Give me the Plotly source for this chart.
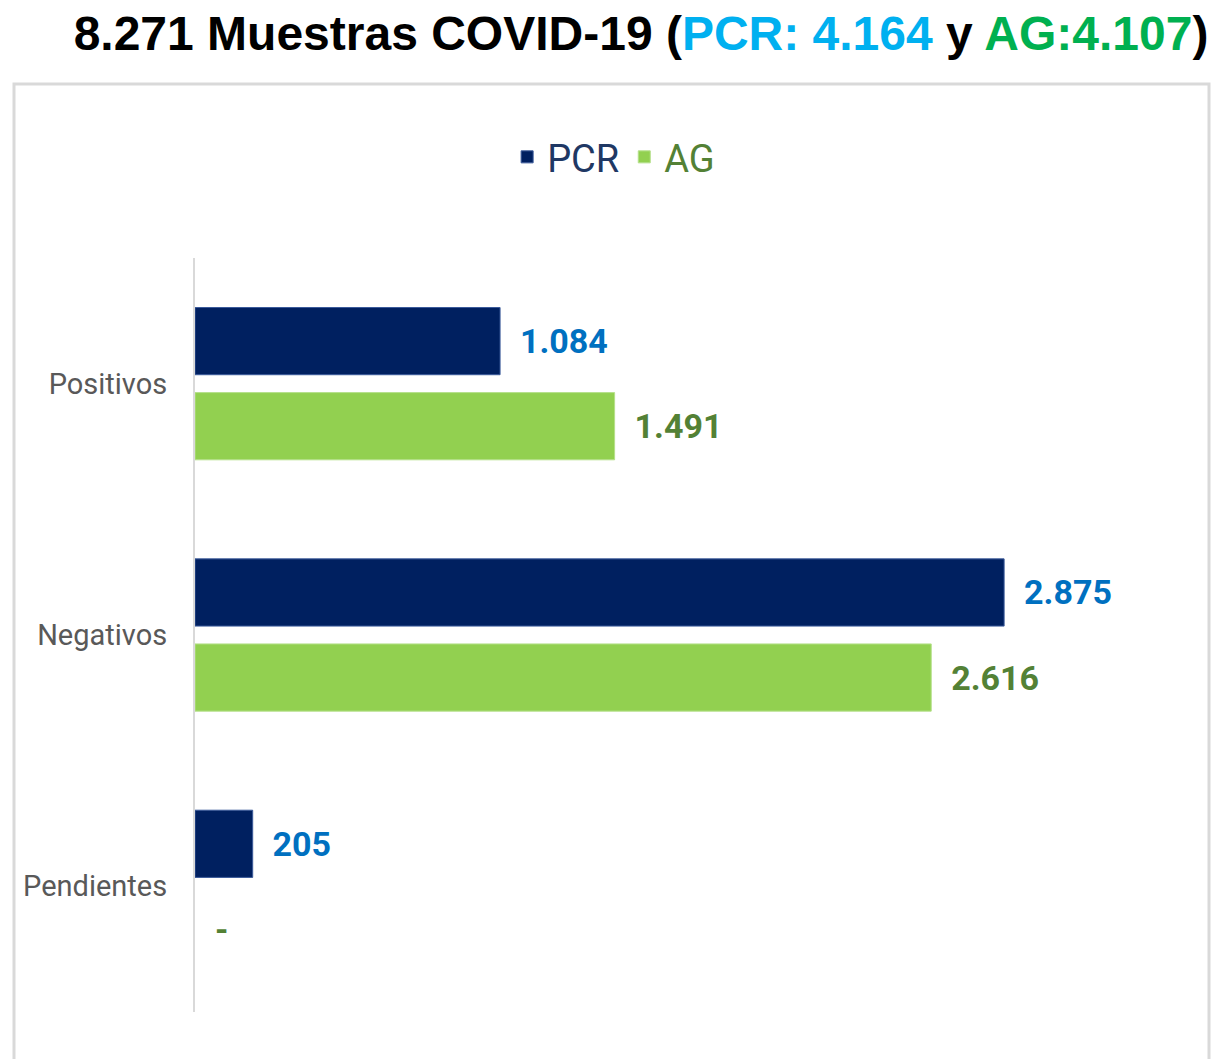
import plotly.graph_objects as go

categories = ["Positivos", "Negativos", "Pendientes"]
pcr_values = [1084, 2875, 205]
ag_values = [1491, 2616, 0]
series_names = ["PCR", "AG"]
title_total = "8.271"
title_pcr = "4.164"
title_ag = "4.107"

FONT = "Roboto, Liberation Sans, sans-serif"
W, H = 1221, 1051  # page body has an 8px margin


def fmt(v):
    return "\u00a0\u00a0" + (f"{v:,}".replace(",", ".") if v else "-")


fig = go.Figure()
fig.add_trace(go.Bar(
    y=categories, x=pcr_values, orientation="h",
    name=f"<span style='color:#1F3864'>{series_names[0]}</span>",
    marker=dict(color="#002060", line=dict(color="#3A5A9A", width=1)),
    text=[fmt(v) for v in pcr_values], textposition="outside",
    textfont=dict(family=FONT, size=34, color="#0070C0", weight="bold"),
    constraintext="none", cliponaxis=False, hoverinfo="skip",
))
fig.add_trace(go.Bar(
    y=categories, x=ag_values, orientation="h",
    name=f"<span style='color:#538135'>{series_names[1]}</span>",
    marker=dict(color="#92D050", line=dict(color="#B5E08A", width=[1 if v else 0 for v in ag_values])),
    text=[fmt(v) for v in ag_values], textposition="outside",
    textfont=dict(family=FONT, size=34, color="#538135", weight="bold"),
    constraintext="none", cliponaxis=False, hoverinfo="skip",
))

title_html = (
    f"{title_total} Muestras COVID-19 ("
    f"<span style='color:#00B0F0'>PCR: {title_pcr}</span> y "
    f"<span style='color:#00B050'>AG:{title_ag}</span>)"
)

L, T = 187, 250
PW, PH = 985, 754

fig.update_layout(
    width=W, height=H,
    paper_bgcolor="white", plot_bgcolor="white",
    margin=dict(l=L, r=W - L - PW, t=T, b=H - T - PH, autoexpand=False),
    barmode="group", bargap=0.323, bargroupgap=0.21,
    title=dict(
        text=title_html, x=633 / W, xref="container", xanchor="center",
        y=1 - 25 / H, yref="container", yanchor="middle", automargin=False,
        font=dict(family="Liberation Sans, Arial, sans-serif", size=48, color="black", weight="bold"),
    ),
    legend=dict(
        orientation="h", x=0.425, xanchor="center", y=1.1755, yanchor="top",
        font=dict(family=FONT, size=38, color="#1F3864"),
        traceorder="normal", itemwidth=30,
    ),
    xaxis=dict(range=[0, 3500], visible=False, fixedrange=True, automargin=False),
    yaxis=dict(
        categoryorder="array", categoryarray=categories, autorange="reversed",
        showline=True, linecolor="#D9D9D9", linewidth=2, automargin=False,
        showgrid=False, zeroline=False, ticks="", ticklabelstandoff=20,
        tickfont=dict(family=FONT, size=29, color="#595959"),
    ),
    shapes=[dict(
        type="rect", xref="paper", yref="paper",
        x0=(6 - L) / PW, x1=(1201 - L) / PW,
        y0=(T + PH - 1070) / PH, y1=1 + (T - 76) / PH,
        line=dict(color="#D9D9D9", width=3), fillcolor="rgba(0,0,0,0)", layer="below",
    )],
)

fig.write_html("out.html")
